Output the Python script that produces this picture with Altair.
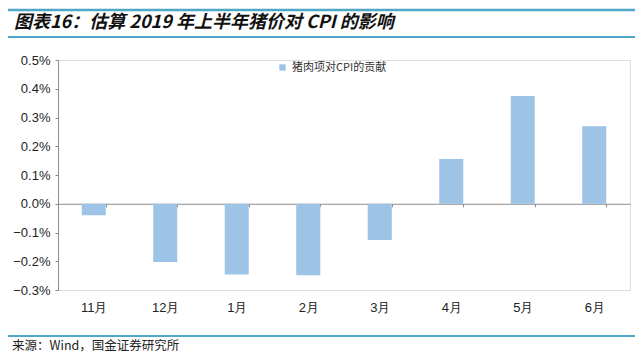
import altair as alt
import pandas as pd

months = ["11月", "12月", "1月", "2月", "3月", "4月", "5月", "6月"]
values_pct = [-0.04, -0.203, -0.246, -0.249, -0.126, 0.156, 0.375, 0.27]
series_name = "猪肉项对CPI的贡献"
y_ticks = [-0.003, -0.002, -0.001, 0.0, 0.001, 0.002, 0.003, 0.004, 0.005]
title_text = "图表16：估算 2019 年上半年猪价对 CPI 的影响"
source_text = "来源：Wind，国金证券研究所"

BAR = "#9dc3e6"
AXIS = "#8c8c8c"
LINE = "#4fa6c6"
W, H = 572, 230

df = pd.DataFrame({
    "month": months,
    "value": [v / 100 for v in values_pct],
    "series": [series_name] * len(months),
})

zero_offset = -(H - H * 5 / 8)

bars = alt.Chart(df).mark_bar().encode(
    x=alt.X("month:N", sort=months,
            scale=alt.Scale(paddingInner=0.664, paddingOuter=0.332),
            axis=alt.Axis(title=None, orient="bottom", offset=zero_offset,
                          domainColor=AXIS, tickColor=AXIS, tickSize=3,
                          tickBand="extent", labelPadding=95, labelAngle=0,
                          labelFont="Liberation Sans", labelFontSize=13,
                          labelColor="#222")),
    y=alt.Y("value:Q", scale=alt.Scale(domain=[-0.003, 0.005], nice=False),
            axis=alt.Axis(title=None, values=y_ticks, format=".1%", grid=False,
                          tickSize=3, domainColor=AXIS, tickColor=AXIS,
                          labelFont="Liberation Sans", labelFontSize=13,
                          labelColor="#222", labelPadding=5)),
    color=alt.Color("series:N", scale=alt.Scale(range=[BAR]),
                    legend=alt.Legend(title=None, orient="none", legendX=219,
                                      legendY=2, symbolType="square",
                                      symbolSize=40, symbolStrokeWidth=0,
                                      labelFont="Noto Sans CJK SC",
                                      labelFontSize=11, labelColor="#333")),
)

one = pd.DataFrame({"t": [title_text]})
src = pd.DataFrame({"t": [source_text]})

top_line = alt.Chart(one).mark_rule(color=LINE, strokeWidth=2.5).encode(
    x=alt.value(-50), x2=alt.value(577), y=alt.value(-50))
mid_line = alt.Chart(one).mark_rule(color=LINE, strokeWidth=2).encode(
    x=alt.value(-50), x2=alt.value(577), y=alt.value(-23))
bot_line = alt.Chart(one).mark_rule(color=LINE, strokeWidth=2).encode(
    x=alt.value(-50), x2=alt.value(577), y=alt.value(276))

title = alt.Chart(one).mark_text(
    align="left", baseline="middle", font="Noto Sans CJK SC", fontSize=18,
    fontWeight="bold", fontStyle="italic", color="#111").encode(
    x=alt.value(-44), y=alt.value(-37), text="t:N")

source = alt.Chart(src).mark_text(
    align="left", baseline="middle", font="Noto Sans CJK SC", fontSize=12.5,
    color="#222").encode(x=alt.value(-46), y=alt.value(286), text="t:N")

chart = alt.layer(bars, top_line, mid_line, bot_line, title, source).properties(
    width=W, height=H,
    autosize=alt.AutoSizeParams(type="none"),
    padding={"left": 50, "top": 52, "right": 5, "bottom": 65},
).configure_view(stroke=None).configure(background="white")

chart.save("out.html", embed_options={"renderer": "svg", "actions": False})
